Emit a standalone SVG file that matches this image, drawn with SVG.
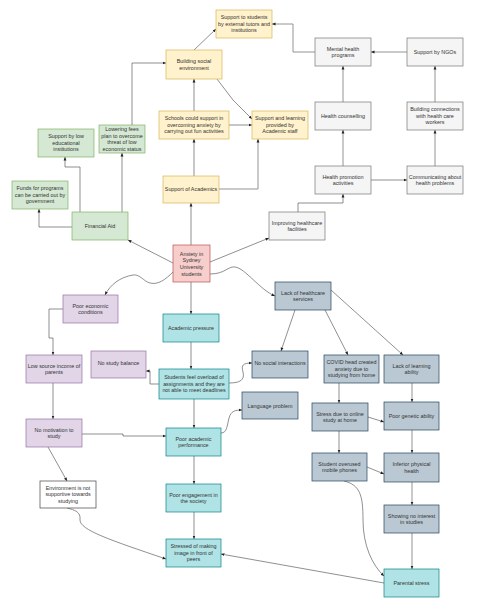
<svg xmlns="http://www.w3.org/2000/svg" width="482" height="611" viewBox="0 0 482 611">
<style>
text{font-family:"Liberation Sans",Arial,Helvetica,sans-serif;font-size:5.4px;fill:#333;text-anchor:middle}
rect{stroke-width:0.7}
.y{fill:#fff2cc;stroke:#d6b656}
.g{fill:#d5e8d4;stroke:#82b366}
.l{fill:#f5f5f5;stroke:#777}
.p{fill:#f8cecc;stroke:#b85450}
.u{fill:#e1d5e7;stroke:#9673a6}
.t{fill:#b0e3e6;stroke:#0e8088}
.b{fill:#bac8d3;stroke:#23445d}
.w{fill:#fff;stroke:#444}
.e path{fill:none;stroke:#444;stroke-width:0.6;marker-end:url(#a)}
.e path.h{stroke:#888;stroke-width:0.9}
</style>
<defs>
<marker id="a" viewBox="0 0 6 6" refX="6" refY="3" markerWidth="3.5" markerHeight="3.5" markerUnits="userSpaceOnUse" orient="auto"><path d="M0,0.5 L6,3 L0,5.5 Z" fill="#222"/></marker>
</defs>
<rect width="482" height="611" fill="#fff"/>
<g class="e" id="connectors">
<path d="M194,50 L216,29"/>
<path d="M132,125 V63 H166"/>
<path d="M194,111 V79"/>
<path d="M229,125 H252"/>
<path d="M217,79 L233,100 L252,119"/>
<path d="M194,176 V139"/>
<path class="h" d="M219,189 H258 V139"/>
<path d="M191,245 V203"/>
<path class="h" d="M315,52 H293 V24 H272"/>
<path class="h" d="M407,52 H371"/>
<path class="h" d="M343,102 V66"/>
<path class="h" d="M435,102 V66"/>
<path class="h" d="M343,166 V130"/>
<path class="h" d="M435,166 V130"/>
<path d="M371,180 H407"/>
<path d="M298,212 V203 H343 V194"/>
<path d="M210,262 L269,238"/>
<path d="M210,274 C225,274 228,266 235,267 C245,268 260,290 275,296"/>
<path d="M173,263 L128,240"/>
<path d="M173,272 C165,280 158,285 150,283 C143,281 140,274 133,275 C120,277 110,285 105,295"/>
<path d="M72,227 H39 V209"/>
<path d="M80,212 V167 H65 V157"/>
<path d="M122,212 V153"/>
<path d="M191,282 V314"/>
<path d="M191,342 V369"/>
<path d="M159,384 H150 V371 H146"/>
<path d="M229,383 C240,383 245,380 243,372 C241,365 243,363 252,363"/>
<path d="M295,310 L281,351"/>
<path d="M194,399 V428"/>
<path d="M82,434 H123 V436 H166"/>
<path d="M221,433 C227,433 227,426 229,418 C231,411 235,410 242,410"/>
<path d="M63,309 H49 V338 H53 V355"/>
<path d="M53,383 V419"/>
<path d="M48,447 L67,481"/>
<path d="M67,508 C75,510 81,512 80,520 C80,530 110,540 166,559"/>
<path d="M194,456 V484"/>
<path d="M194,512 V539"/>
<path d="M384,583 L221,554"/>
<path d="M325,310 L348,355"/>
<path d="M331,290 L403,355"/>
<path d="M339,383 V403"/>
<path class="h" d="M412,383 V402"/>
<path d="M368,417 L384,422"/>
<path d="M339,431 V453"/>
<path class="h" d="M412,430 V453"/>
<path d="M367,467 L384,474"/>
<path d="M344,481 C360,485 363,495 363,520 C363,545 372,565 384,576"/>
<path class="h" d="M412,482 V505"/>
<path class="h" d="M412,533 V569"/>
</g>
<g id="ext_tutors"><rect class="y" x="216" y="10" width="56" height="28"/><text><tspan x="244" y="19">Support to students</tspan><tspan x="244" y="25.7">by external tutors and</tspan><tspan x="244" y="32.4">institutions</tspan></text></g>
<g id="social_env"><rect class="y" x="166" y="50" width="56" height="29"/><text><tspan x="194" y="63">Building social</tspan><tspan x="194" y="69.7">environment</tspan></text></g>
<g id="schools"><rect class="y" x="159" y="111" width="70" height="28"/><text><tspan x="194" y="120">Schools could support in</tspan><tspan x="194" y="126.7">overcoming anxiety by</tspan><tspan x="194" y="133.4">carrying out fun activities</tspan></text></g>
<g id="academic_staff"><rect class="y" x="252" y="111" width="56" height="28"/><text><tspan x="280" y="120">Support and learning</tspan><tspan x="280" y="126.7">provided by</tspan><tspan x="280" y="133.4">Academic staff</tspan></text></g>
<g id="support_academics"><rect class="y" x="163" y="176" width="56" height="27"/><text x="191" y="191.4">Support of Academics</text></g>
<g id="lowering_fees"><rect class="g" x="99" y="125" width="46" height="28"/><text><tspan x="122" y="131">Lowering fees</tspan><tspan x="122" y="137.7">plan to overcome</tspan><tspan x="122" y="144.4">threat of low</tspan><tspan x="122" y="151.1">economic status</tspan></text></g>
<g id="low_edu"><rect class="g" x="38" y="129" width="56" height="28"/><text><tspan x="66" y="138">Support by low</tspan><tspan x="66" y="144.7">educational</tspan><tspan x="66" y="151.4">institutions</tspan></text></g>
<g id="funds"><rect class="g" x="12" y="181" width="56" height="28"/><text><tspan x="40" y="190">Funds for programs</tspan><tspan x="40" y="196.7">can be carried out by</tspan><tspan x="40" y="203.4">government</tspan></text></g>
<g id="financial_aid"><rect class="g" x="72" y="212" width="56" height="28"/><text x="100" y="228">Financial Aid</text></g>
<g id="mental_health"><rect class="l" x="315" y="38" width="56" height="28"/><text><tspan x="343" y="50.5">Mental health</tspan><tspan x="343" y="57.2">programs</tspan></text></g>
<g id="ngos"><rect class="l" x="407" y="38" width="56" height="28"/><text x="435" y="54">Support by NGOs</text></g>
<g id="health_counselling"><rect class="l" x="315" y="102" width="56" height="28"/><text x="343" y="118">Health counselling</text></g>
<g id="building_connections"><rect class="l" x="407" y="102" width="56" height="28"/><text><tspan x="435" y="111">Building connections</tspan><tspan x="435" y="117.7">with health care</tspan><tspan x="435" y="124.4">workers</tspan></text></g>
<g id="health_promotion"><rect class="l" x="315" y="166" width="56" height="28"/><text><tspan x="343" y="178.5">Health promotion</tspan><tspan x="343" y="185.2">activities</tspan></text></g>
<g id="communicating"><rect class="l" x="407" y="166" width="56" height="28"/><text><tspan x="435" y="178.5">Communicating about</tspan><tspan x="435" y="185.2">health problems</tspan></text></g>
<g id="improving"><rect class="l" x="269" y="212" width="56" height="28"/><text><tspan x="297" y="224.5">Improving healthcare</tspan><tspan x="297" y="231.2">facilities</tspan></text></g>
<g id="anxiety"><rect class="p" x="173" y="245" width="37" height="37"/><text><tspan x="191.5" y="255.5">Anxiety in</tspan><tspan x="191.5" y="262.2">Sydney</tspan><tspan x="191.5" y="268.9">University</tspan><tspan x="191.5" y="275.6">students</tspan></text></g>
<g id="lack_healthcare"><rect class="b" x="275" y="282" width="56" height="28"/><text><tspan x="303" y="294.5">Lack of healthcare</tspan><tspan x="303" y="301.2">services</tspan></text></g>
<g id="poor_economic"><rect class="u" x="63" y="295" width="55" height="28"/><text><tspan x="90.5" y="307.5">Poor economic</tspan><tspan x="90.5" y="314.2">conditions</tspan></text></g>
<g id="low_income"><rect class="u" x="26" y="355" width="56" height="28"/><text><tspan x="54" y="367.5">Low source income of</tspan><tspan x="54" y="374.2">parents</tspan></text></g>
<g id="no_motivation"><rect class="u" x="26" y="419" width="56" height="28"/><text><tspan x="54" y="431.5">No motivation to</tspan><tspan x="54" y="438.2">study</tspan></text></g>
<g id="no_study_balance"><rect class="u" x="91" y="351" width="55" height="27"/><text x="118.5" y="365">No study balance</text></g>
<g id="environment"><rect class="w" x="40" y="481" width="56" height="27"/><text><tspan x="68" y="489.5">Environment is not</tspan><tspan x="68" y="496.2">supportive towards</tspan><tspan x="68" y="502.9">studying</tspan></text></g>
<g id="academic_pressure"><rect class="t" x="163" y="314" width="56" height="28"/><text x="191" y="330">Academic pressure</text></g>
<g id="students_overload"><rect class="t" x="159" y="369" width="70" height="30"/><text><tspan x="194" y="379">Students feel overload of</tspan><tspan x="194" y="385.7">assignments and they are</tspan><tspan x="194" y="392.4">not able to meet deadlines</tspan></text></g>
<g id="poor_academic"><rect class="t" x="166" y="428" width="55" height="28"/><text><tspan x="193.5" y="440.5">Poor academic</tspan><tspan x="193.5" y="447.2">performance</tspan></text></g>
<g id="poor_engagement"><rect class="t" x="166" y="484" width="55" height="28"/><text><tspan x="193.5" y="496.5">Poor engagement in</tspan><tspan x="193.5" y="503.2">the society</tspan></text></g>
<g id="stressed_image"><rect class="t" x="166" y="539" width="55" height="28"/><text><tspan x="193.5" y="548">Stressed of making</tspan><tspan x="193.5" y="554.7">image in front of</tspan><tspan x="193.5" y="561.4">peers</tspan></text></g>
<g id="no_social"><rect class="b" x="252" y="351" width="56" height="27"/><text x="280" y="365">No social interactions</text></g>
<g id="language"><rect class="b" x="242" y="392" width="56" height="27"/><text x="270" y="407.5">Language problem</text></g>
<g id="covid"><rect class="b" x="324" y="355" width="55" height="28"/><text><tspan x="351.5" y="364">COVID head created</tspan><tspan x="351.5" y="370.7">anxiety due to</tspan><tspan x="351.5" y="377.4">studying from home</tspan></text></g>
<g id="lack_learning"><rect class="b" x="384" y="355" width="55" height="28"/><text><tspan x="411.5" y="367.5">Lack of learning</tspan><tspan x="411.5" y="374.2">ability</tspan></text></g>
<g id="stress_online"><rect class="b" x="312" y="403" width="56" height="28"/><text><tspan x="340" y="415.5">Stress due to online</tspan><tspan x="340" y="422.2">study at home</tspan></text></g>
<g id="poor_genetic"><rect class="b" x="384" y="402" width="55" height="28"/><text x="411.5" y="418">Poor genetic ability</text></g>
<g id="overused"><rect class="b" x="312" y="453" width="55" height="28"/><text><tspan x="339.5" y="465.5">Student overused</tspan><tspan x="339.5" y="472.2">mobile phones</tspan></text></g>
<g id="inferior"><rect class="b" x="384" y="453" width="55" height="29"/><text><tspan x="411.5" y="466">Inferior physical</tspan><tspan x="411.5" y="472.7">health</tspan></text></g>
<g id="showing"><rect class="b" x="384" y="505" width="55" height="28"/><text><tspan x="411.5" y="517.5">Showing no interest</tspan><tspan x="411.5" y="524.2">in studies</tspan></text></g>
<g id="parental"><rect class="t" x="384" y="569" width="55" height="28"/><text x="411.5" y="585">Parental stress</text></g>
</svg>
